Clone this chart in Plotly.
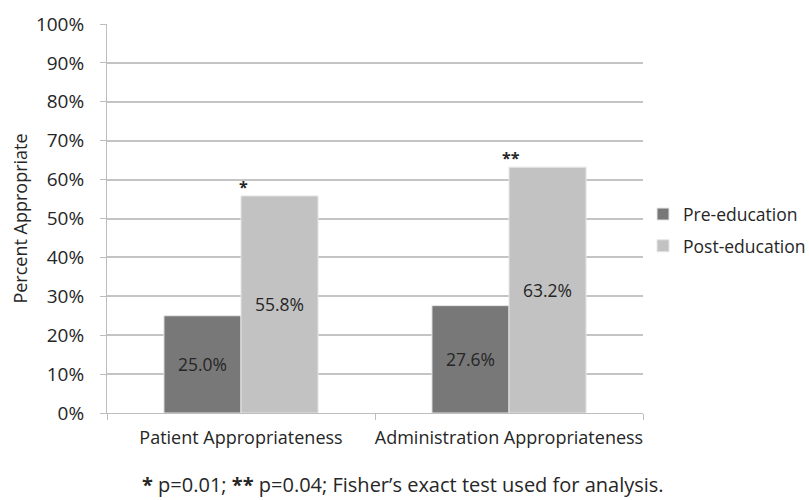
import plotly.graph_objects as go

categories = ["Patient Appropriateness", "Administration Appropriateness"]
pre_education = [25.0, 27.6]
post_education = [55.8, 63.2]
significance = ["*", "**"]
y_ticks = list(range(0, 101, 10))
y_tick_labels = [f"{v}%" for v in y_ticks]

FONT = "Open Sans, sans-serif"
TEXT = "#262626"

fig = go.Figure()
fig.add_trace(go.Bar(
    name="Pre-education", x=categories, y=pre_education,
    marker=dict(color="#787878", line=dict(color="#e6e6e6", width=1)),
    text=[f"{v:.1f}%" for v in pre_education],
    textposition="inside", insidetextanchor="middle",
    textfont=dict(size=17.5, color=TEXT, family=FONT),
    legendgroup="pre",
))
fig.add_trace(go.Bar(
    name="Post-education", x=categories, y=post_education,
    marker=dict(color="#c2c2c2", line=dict(color="#e6e6e6", width=1)),
    text=[f"{v:.1f}%" for v in post_education],
    textposition="inside", insidetextanchor="middle",
    textfont=dict(size=17.5, color=TEXT, family=FONT),
    legendgroup="post",
))

# significance markers above the post-education bars
for cat, val, mark in zip(categories, post_education, significance):
    fig.add_annotation(
        x=cat, y=val, text=f"<b>{mark}</b>", showarrow=False,
        xref="x", yref="y", xshift=2, yshift=-4,
        yanchor="bottom", font=dict(size=16, color=TEXT, family=FONT),
    )

fig.add_annotation(
    text="Percent Appropriate", textangle=-90, showarrow=False,
    xref="paper", yref="paper", x=-0.164, y=0.5, xanchor="center",
    yanchor="middle",
    font=dict(size=18, color=TEXT, family=FONT),
)
fig.add_annotation(
    text="<b>*</b> p=0.01; <b>**</b> p=0.04; Fisher\u2019s exact test used for analysis.",
    showarrow=False, xref="paper", yref="paper", x=0.552, y=-0.185,
    xanchor="center", yanchor="middle",
    font=dict(size=20, color=TEXT, family=FONT),
)

fig.update_layout(
    width=809, height=500,
    margin=dict(l=107, r=166, t=24, b=87, autoexpand=False),
    plot_bgcolor="white", paper_bgcolor="white",
    barmode="group", bargap=0.425, bargroupgap=0,
    font=dict(family=FONT, color=TEXT),
    legend=dict(
        x=1.0, y=0.47, xanchor="left", yanchor="middle",
        font=dict(size=17.5, color=TEXT, family=FONT),
        tracegroupgap=6, itemwidth=30,
    ),
    showlegend=True,
)
fig.update_xaxes(
    showline=True, linecolor="#bdbdbd", linewidth=1,
    ticks="outside", tickson="boundaries", ticklen=6, tickcolor="#bdbdbd",
    tickfont=dict(size=18, color=TEXT, family=FONT),
    tickangle=0, ticklabelstandoff=8,
    showgrid=False,
)
fig.update_yaxes(
    range=[0, 100], tickvals=y_ticks, ticktext=y_tick_labels,
    showline=True, linecolor="#bdbdbd", linewidth=1,
    ticks="outside", ticklen=6, tickcolor="#bdbdbd",
    showgrid=True, gridcolor="#c4c4c4", gridwidth=1.5,
    tickfont=dict(size=19, color=TEXT, family=FONT),
    ticklabelstandoff=12,
    zeroline=False,
)

fig.write_html("out.html")
